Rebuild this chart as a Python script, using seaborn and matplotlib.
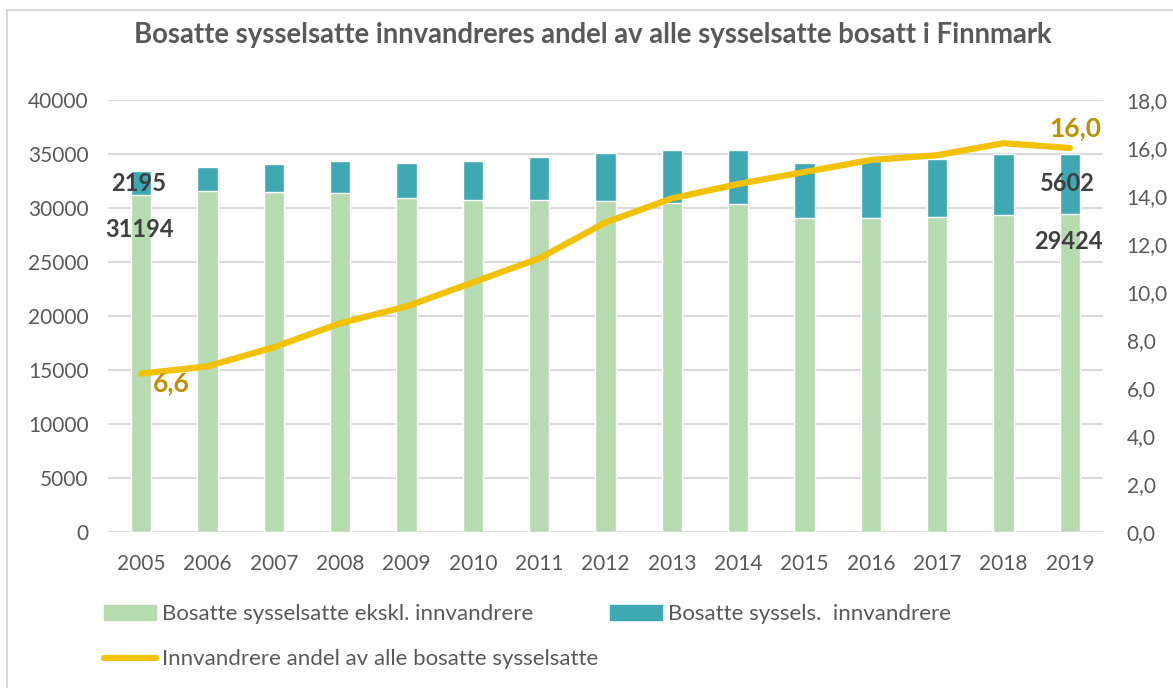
import numpy as np
import pandas as pd
import matplotlib
matplotlib.use("Agg")
import matplotlib.pyplot as plt
import seaborn as sns
from matplotlib.lines import Line2D
from matplotlib.patches import Patch

years = [str(y) for y in range(2005, 2020)]
ekskl = [31194, 31550, 31480, 31390, 30960, 30770, 30740, 30620,
         30500, 30340, 29050, 29080, 29170, 29380, 29424]
innv = [2195, 2280, 2600, 2970, 3180, 3560, 3960, 4510,
        4840, 5060, 5120, 5250, 5370, 5650, 5602]
andel = [6.6, 6.9, 7.7, 8.7, 9.4, 10.4, 11.4, 12.9,
         13.9, 14.5, 15.0, 15.5, 15.7, 16.2, 16.0]

GREEN = "#B7DBB1"
TEAL = "#3EA8B3"
GOLD = "#F2C200"
GOLD_TXT = "#BF9000"
GRID = "#D9D9D9"
TXT = "#595959"

sns.set_style("white")
plt.rcParams["font.family"] = ["Lato", "DejaVu Sans"]

df = pd.DataFrame({"year": years, "ekskl": ekskl, "innv": innv, "andel": andel})
df["total"] = df["ekskl"] + df["innv"]

fig = plt.figure(figsize=(11.73, 6.88), dpi=100)
ax = fig.add_axes([108 / 1173, 1 - 532 / 688, 995 / 1173, 432 / 688])

# stacked bars: total (teal) behind, green part in front
sns.barplot(data=df, x="year", y="total", color=TEAL, width=0.31,
            saturation=1, ax=ax, zorder=2)
sns.barplot(data=df, x="year", y="ekskl", color=GREEN, width=0.31,
            saturation=1, ax=ax, zorder=3)

ax.set_ylim(0, 40000)
ax.set_yticks(np.arange(0, 40001, 5000))
ax.yaxis.grid(True, color=GRID, linewidth=1.5, zorder=0)
ax.set_axisbelow(True)
for s in ["top", "right", "left", "bottom"]:
    ax.spines[s].set_visible(False)
ax.set_xlabel("")
ax.set_ylabel("")
ax.tick_params(axis="both", length=0, labelsize=15, colors=TXT)
ax.tick_params(axis="x", pad=16)
ax.tick_params(axis="y", pad=14)

ax2 = ax.twinx()
sns.lineplot(x=np.arange(len(years)), y=df["andel"], color=GOLD,
             linewidth=4.5, ax=ax2, solid_capstyle="round")
ax2.set_ylim(0, 18)
ax2.set_yticks(np.arange(0, 18.1, 2))
ax2.set_yticklabels([f"{v:.1f}".replace(".", ",") for v in np.arange(0, 18.1, 2)])
ax2.tick_params(axis="y", length=0, labelsize=15, colors=TXT, pad=17)
for s in ["top", "right", "left", "bottom"]:
    ax2.spines[s].set_visible(False)
ax2.set_ylabel("")
ax.set_xlim(-0.5, len(years) - 0.5)

# data labels
lbl = dict(fontsize=17, fontweight="bold", color="#404040", ha="center", va="center")
first, last = 0, len(years) - 1
for i in (first, last):
    ax.annotate(str(innv[i]), (i, ekskl[i] + innv[i] / 2), xytext=(-2, 0),
                textcoords="offset points", zorder=6, **lbl)
ax.annotate(str(ekskl[first]), (first, ekskl[first]), xytext=(-1, -25),
            textcoords="offset points", zorder=6, **lbl)
ax.annotate(str(ekskl[last]), (last, ekskl[last]), xytext=(-1, -20),
            textcoords="offset points", zorder=6, **lbl)
gl = dict(fontsize=19, fontweight="bold", color=GOLD_TXT, ha="center", va="center")
ax2.annotate(f"{andel[first]:.1f}".replace(".", ","), (first, andel[first]),
             xytext=(22, -7), textcoords="offset points", **gl)
ax2.annotate(f"{andel[last]:.1f}".replace(".", ","), (last, andel[last]),
             xytext=(4, 14), textcoords="offset points", **gl)

fig.text(593 / 1173, 1 - 35 / 688,
         "Bosatte sysselsatte innvandreres andel av alle sysselsatte bosatt i Finnmark",
         ha="center", va="center", fontsize=19.8, fontweight="bold", color=TXT)

handles = [Patch(color=GREEN), Line2D([], [], color=GOLD, linewidth=4.5),
           Patch(color=TEAL)]
labels = ["Bosatte sysselsatte ekskl. innvandrere",
          "Innvandrere andel av alle bosatte sysselsatte",
          "Bosatte syssels.  innvandrere"]
leg = fig.legend(handles, labels, ncol=2, loc="upper left",
                 bbox_to_anchor=(95 / 1173, 1 - 595 / 688), frameon=False,
                 borderaxespad=0, fontsize=16, handlelength=2.35,
                 handleheight=0.65, handletextpad=0.25, columnspacing=0.55,
                 labelspacing=1.15, labelcolor=TXT)

# outer chart border (left and top edges visible in the crop)
fig.add_artist(Line2D([7 / 1173, 7 / 1173], [0, 1 - 10 / 688], color=GRID,
                      linewidth=1.5, transform=fig.transFigure))
fig.add_artist(Line2D([7 / 1173, 1], [1 - 10 / 688, 1 - 10 / 688], color=GRID,
                      linewidth=1.5, transform=fig.transFigure))

fig.savefig("out.png", dpi=100)
